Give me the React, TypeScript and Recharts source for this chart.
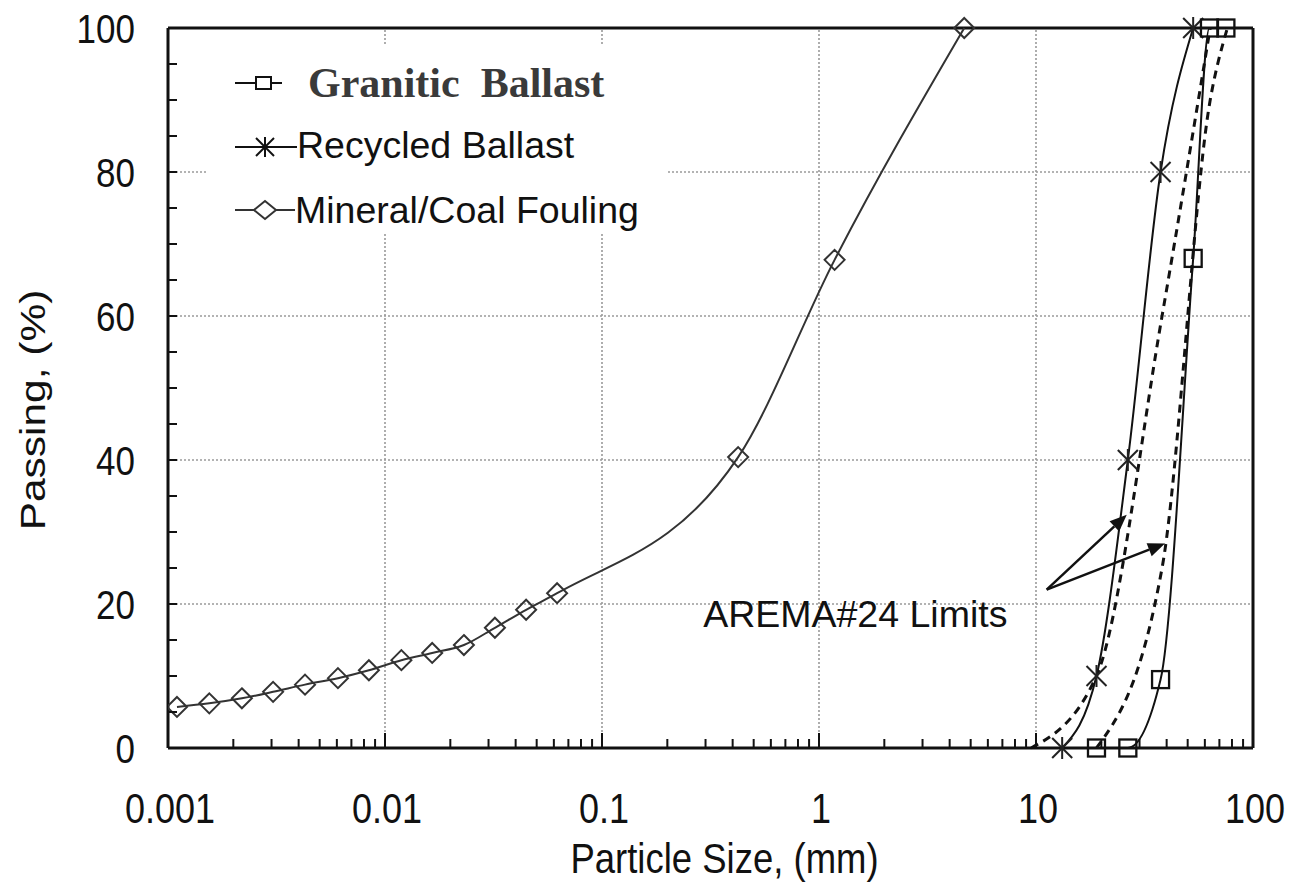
import React from 'react';
import { ComposedChart, Line, XAxis, YAxis, ReferenceLine, ReferenceDot, Legend } from 'recharts';

// ---------- data ----------
const foulingSize = [0.0011, 0.00155, 0.00219, 0.00305, 0.00428, 0.00607, 0.00843, 0.0119, 0.0165, 0.0231, 0.0321, 0.0447, 0.0621, 0.424, 1.18, 4.67];
const foulingPassing = [5.7, 6.2, 6.9, 7.8, 8.8, 9.7, 10.8, 12.2, 13.2, 14.3, 16.7, 19.2, 21.5, 40.4, 67.8, 100];

const graniticSize = [19, 26.5, 37.5, 53, 63, 75];
const graniticPassing = [0, 0, 9.5, 68, 100, 100];

const recycledSize = [13.2, 19, 26.5, 37.5, 53];
const recycledPassing = [0, 10, 40, 80, 100];

const aremaFineSize = [9.5, 19, 38.1, 63.5];
const aremaFinePassing = [0, 10, 60, 100];
const aremaCoarseSize = [19, 38.1, 63.5, 76.2];
const aremaCoarsePassing = [0, 25, 90, 100];

const xTicks = [
  0.001, 0.002, 0.003, 0.004, 0.005, 0.006, 0.007, 0.008, 0.009,
  0.01, 0.02, 0.03, 0.04, 0.05, 0.06, 0.07, 0.08, 0.09,
  0.1, 0.2, 0.3, 0.4, 0.5, 0.6, 0.7, 0.8, 0.9,
  1, 2, 3, 4, 5, 6, 7, 8, 9,
  10, 20, 30, 40, 50, 60, 70, 80, 90,
  100,
];
const xMajor = [0.001, 0.01, 0.1, 1, 10, 100];
const xMajorLabels = ['0.001', '0.01', '0.1', '1', '10', '100'];
const yTicks = [0, 5, 10, 15, 20, 25, 30, 35, 40, 45, 50, 55, 60, 65, 70, 75, 80, 85, 90, 95, 100];
const yMajor = [0, 20, 40, 60, 80, 100];
const xGrid = [0.01, 0.1, 1, 10];
const yGrid = [20, 40, 60, 80];

const arrowStart = { x: 11.2, y: 22.0 };
const arrowTips = [{ x: 26.2, y: 32.4 }, { x: 39.3, y: 28.4 }];
const annotation = { x: 1.47, y: 18.75, text: 'AREMA#24 Limits' };

const seriesNames = ['Granitic  Ballast', 'Recycled Ballast', 'Mineral/Coal Fouling'];
const xTitle = 'Particle Size, (mm)';
const yTitle = 'Passing, (%)';

const zip = (xs: number[], ys: number[]) => xs.map((x, i) => ({ x, y: ys[i] }));
const foulingData = zip(foulingSize, foulingPassing);
const graniticData = zip(graniticSize, graniticPassing);
const recycledData = zip(recycledSize, recycledPassing);
const aremaFineData = zip(aremaFineSize, aremaFinePassing);
const aremaCoarseData = zip(aremaCoarseSize, aremaCoarsePassing);

const SANS = '"Liberation Sans", Arial, sans-serif';
const SERIF = '"Liberation Serif", "Times New Roman", serif';
const INK = '#111';

// ---------- markers ----------
const SquareDot = (p: any) => {
  if (p.cx == null || p.cy == null) return <g key={`sq-${p.index}`} />;
  return (
    <rect key={`sq-${p.index}`} x={p.cx - 8.5} y={p.cy - 8.5} width={17} height={17}
      fill="none" stroke={INK} strokeWidth={2.3} />
  );
};
const StarDot = (p: any) => {
  if (p.cx == null || p.cy == null) return <g key={`st-${p.index}`} />;
  const { cx, cy } = p;
  const r = 10;
  return (
    <g key={`st-${p.index}`} stroke="#222" strokeWidth={2}>
      <line x1={cx - r} y1={cy - r} x2={cx + r} y2={cy + r} />
      <line x1={cx - r} y1={cy + r} x2={cx + r} y2={cy - r} />
      <line x1={cx} y1={cy - r - 1} x2={cx} y2={cy + r + 1} />
    </g>
  );
};
const DiamondDot = (p: any) => {
  if (p.cx == null || p.cy == null) return <g key={`dm-${p.index}`} />;
  const { cx, cy } = p;
  const r = 10;
  return (
    <path key={`dm-${p.index}`} d={`M${cx},${cy - r}L${cx + r},${cy}L${cx},${cy + r}L${cx - r},${cy}Z`}
      fill="none" stroke="#333" strokeWidth={2} />
  );
};

// ---------- axes ----------
const XTick = (props: any) => {
  const { x, y, payload } = props;
  const v = payload.value;
  const idx = xMajor.findIndex((m) => Math.abs(m - v) / m < 1e-6);
  const len = idx >= 0 ? 15 : 9;
  return (
    <g>
      <line x1={x} y1={y} x2={x} y2={y - len} stroke={INK} strokeWidth={2} />
      {idx >= 0 && (
        <text transform={`translate(${x + 2},${y + 75}) scale(1,1.17)`} textAnchor="middle"
          fontSize={36} fontFamily={SANS} fill={INK}>{xMajorLabels[idx]}</text>
      )}
    </g>
  );
};

const YTick = (props: any) => {
  const { x, y, payload } = props;
  const v = payload.value;
  const isMajor = yMajor.includes(v);
  return (
    <g>
      {v > 0 && v < 100 && <line x1={x} y1={y} x2={x + 9} y2={y} stroke={INK} strokeWidth={2} />}
      {isMajor && (
        <text transform={`translate(${x - 33},${y + 15}) scale(1,1.17)`} textAnchor="end"
          fontSize={35} fontFamily={SANS} fill={INK}>{String(v)}</text>
      )}
    </g>
  );
};

const XTitle = (props: any) => {
  const vb = props.viewBox || { x: 0, y: 0, width: 0, height: 0 };
  const cx = vb.x + vb.width / 2 + 14;
  const by = vb.y + 125;
  return (
    <text transform={`translate(${cx},${by}) scale(1,1.15)`} textAnchor="middle" fontSize={36.5}
      fontFamily={SANS} fill={INK}>{xTitle}</text>
  );
};

const YTitle = (props: any) => {
  const vb = props.viewBox || { x: 0, y: 0, width: 0, height: 0 };
  const cy = vb.y + vb.height / 2 + 22;
  return (
    <text transform={`translate(32,${cy}) rotate(-90) scale(1.18,1)`} textAnchor="middle" dy="0.36em"
      fontSize={36} fontFamily={SANS} fill={INK}>{yTitle}</text>
  );
};

// ---------- annotation ----------
const ArrowShape = (p: any) => {
  const { x1, y1, x2, y2 } = p;
  if ([x1, y1, x2, y2].some((v) => v == null || isNaN(v))) return <g />;
  const ang = Math.atan2(y2 - y1, x2 - x1);
  const L = 17, W = 7;
  const bx = x2 - L * Math.cos(ang), by = y2 - L * Math.sin(ang);
  const px = -Math.sin(ang) * W, py = Math.cos(ang) * W;
  return (
    <g>
      <line x1={x1} y1={y1} x2={bx} y2={by} stroke={INK} strokeWidth={2.5} />
      <polygon points={`${x2},${y2} ${bx + px},${by + py} ${bx - px},${by - py}`} fill={INK} />
    </g>
  );
};

const AnnotationLabel = (props: any) => {
  const vb = props.viewBox || { x: 0, y: 0, width: 0, height: 0 };
  const cx = vb.x + (vb.width || 0) / 2;
  const cy = vb.y + (vb.height || 0) / 2;
  return (
    <text x={cx} y={cy} dy="0.36em" textAnchor="middle" fontSize={37.5} fontFamily={SANS} fill={INK}>
      {annotation.text}
    </text>
  );
};

// ---------- legend ----------
const renderLegend = () => (
  <svg width={460} height={188} style={{ display: 'block', background: '#fff' }}>
    <g>
      <line x1={27} y1={38} x2={74} y2={38} stroke={INK} strokeWidth={2} />
      <rect x={48} y={32} width={15} height={12} fill="#fff" stroke={INK} strokeWidth={2} />
      <text x={100} y={52} fontSize={42} fontWeight="bold" fontFamily={SERIF} fill="#3a3a3a"
        style={{ whiteSpace: 'pre' }}>{seriesNames[0]}</text>
    </g>
    <g>
      <line x1={27} y1={102} x2={89} y2={102} stroke={INK} strokeWidth={2} />
      <g stroke={INK} strokeWidth={2}>
        <line x1={48} y1={93} x2={66} y2={111} />
        <line x1={48} y1={111} x2={66} y2={93} />
        <line x1={57} y1={92} x2={57} y2={112} />
      </g>
      <text x={89} y={113} fontSize={37.5} fontFamily={SANS} fill={INK}>{seriesNames[1]}</text>
    </g>
    <g>
      <line x1={27} y1={165} x2={87} y2={165} stroke="#333" strokeWidth={2} />
      <path d="M57,156L68,165L57,174L46,165Z" fill="#fff" stroke="#333" strokeWidth={2} />
      <text x={87} y={178} fontSize={37.5} fontFamily={SANS} fill={INK}>{seriesNames[2]}</text>
    </g>
  </svg>
);

export default function App() {
  return (
    <div style={{ position: 'fixed', left: 0, top: 0, width: 1304, height: 882, background: '#fff' }}>
      <ComposedChart width={1304} height={882} margin={{ top: 28, right: 51, bottom: 74, left: 68 }}>
        <XAxis dataKey="x" type="number" scale="log" domain={[0.001, 100]} allowDataOverflow
          ticks={xTicks} interval={0} tickLine={false} tickSize={0} tickMargin={0} tick={XTick}
          axisLine={{ stroke: INK, strokeWidth: 3 }} height={60} label={{ content: XTitle }} />
        <YAxis type="number" domain={[0, 100]} ticks={yTicks} interval={0} tickLine={false}
          tickSize={0} tickMargin={0} tick={YTick} width={100}
          axisLine={{ stroke: INK, strokeWidth: 3 }} label={{ content: YTitle }} />

        {xGrid.map((v) => (
          <ReferenceLine key={`gx-${v}`} x={v} stroke="#9a9a9a" strokeWidth={1.6} strokeDasharray="2 2" />
        ))}
        {yGrid.map((v) => (
          <ReferenceLine key={`gy-${v}`} y={v} stroke="#9a9a9a" strokeWidth={1.6} strokeDasharray="2 2" />
        ))}
        <ReferenceLine y={100} stroke={INK} strokeWidth={3} />
        <ReferenceLine x={100} stroke={INK} strokeWidth={3} />

        <Line data={aremaFineData} dataKey="y" type="monotone" stroke={INK} strokeWidth={3}
          strokeDasharray="8 6" dot={false} activeDot={false} isAnimationActive={false} legendType="none" />
        <Line data={aremaCoarseData} dataKey="y" type="monotone" stroke={INK} strokeWidth={3}
          strokeDasharray="8 6" dot={false} activeDot={false} isAnimationActive={false} legendType="none" />
        <Line data={foulingData} dataKey="y" type="monotone" stroke="#333" strokeWidth={2}
          dot={DiamondDot} activeDot={false} isAnimationActive={false} />
        <Line data={recycledData} dataKey="y" type="monotone" stroke={INK} strokeWidth={2}
          dot={StarDot} activeDot={false} isAnimationActive={false} />
        <Line data={graniticData} dataKey="y" type="monotone" stroke={INK} strokeWidth={2}
          dot={SquareDot} activeDot={false} isAnimationActive={false} />

        {arrowTips.map((t, i) => (
          <ReferenceLine key={`ar-${i}`} segment={[arrowStart, t]} shape={ArrowShape} stroke={INK} />
        ))}
        <ReferenceDot x={annotation.x} y={annotation.y} r={0} fill="none" stroke="none"
          label={{ content: AnnotationLabel }} />

        <Legend content={renderLegend} layout="vertical" align="center" verticalAlign="middle"
          wrapperStyle={{ left: 208, top: 45, width: 460, height: 188, background: '#fff' }} />
      </ComposedChart>
    </div>
  );
}
